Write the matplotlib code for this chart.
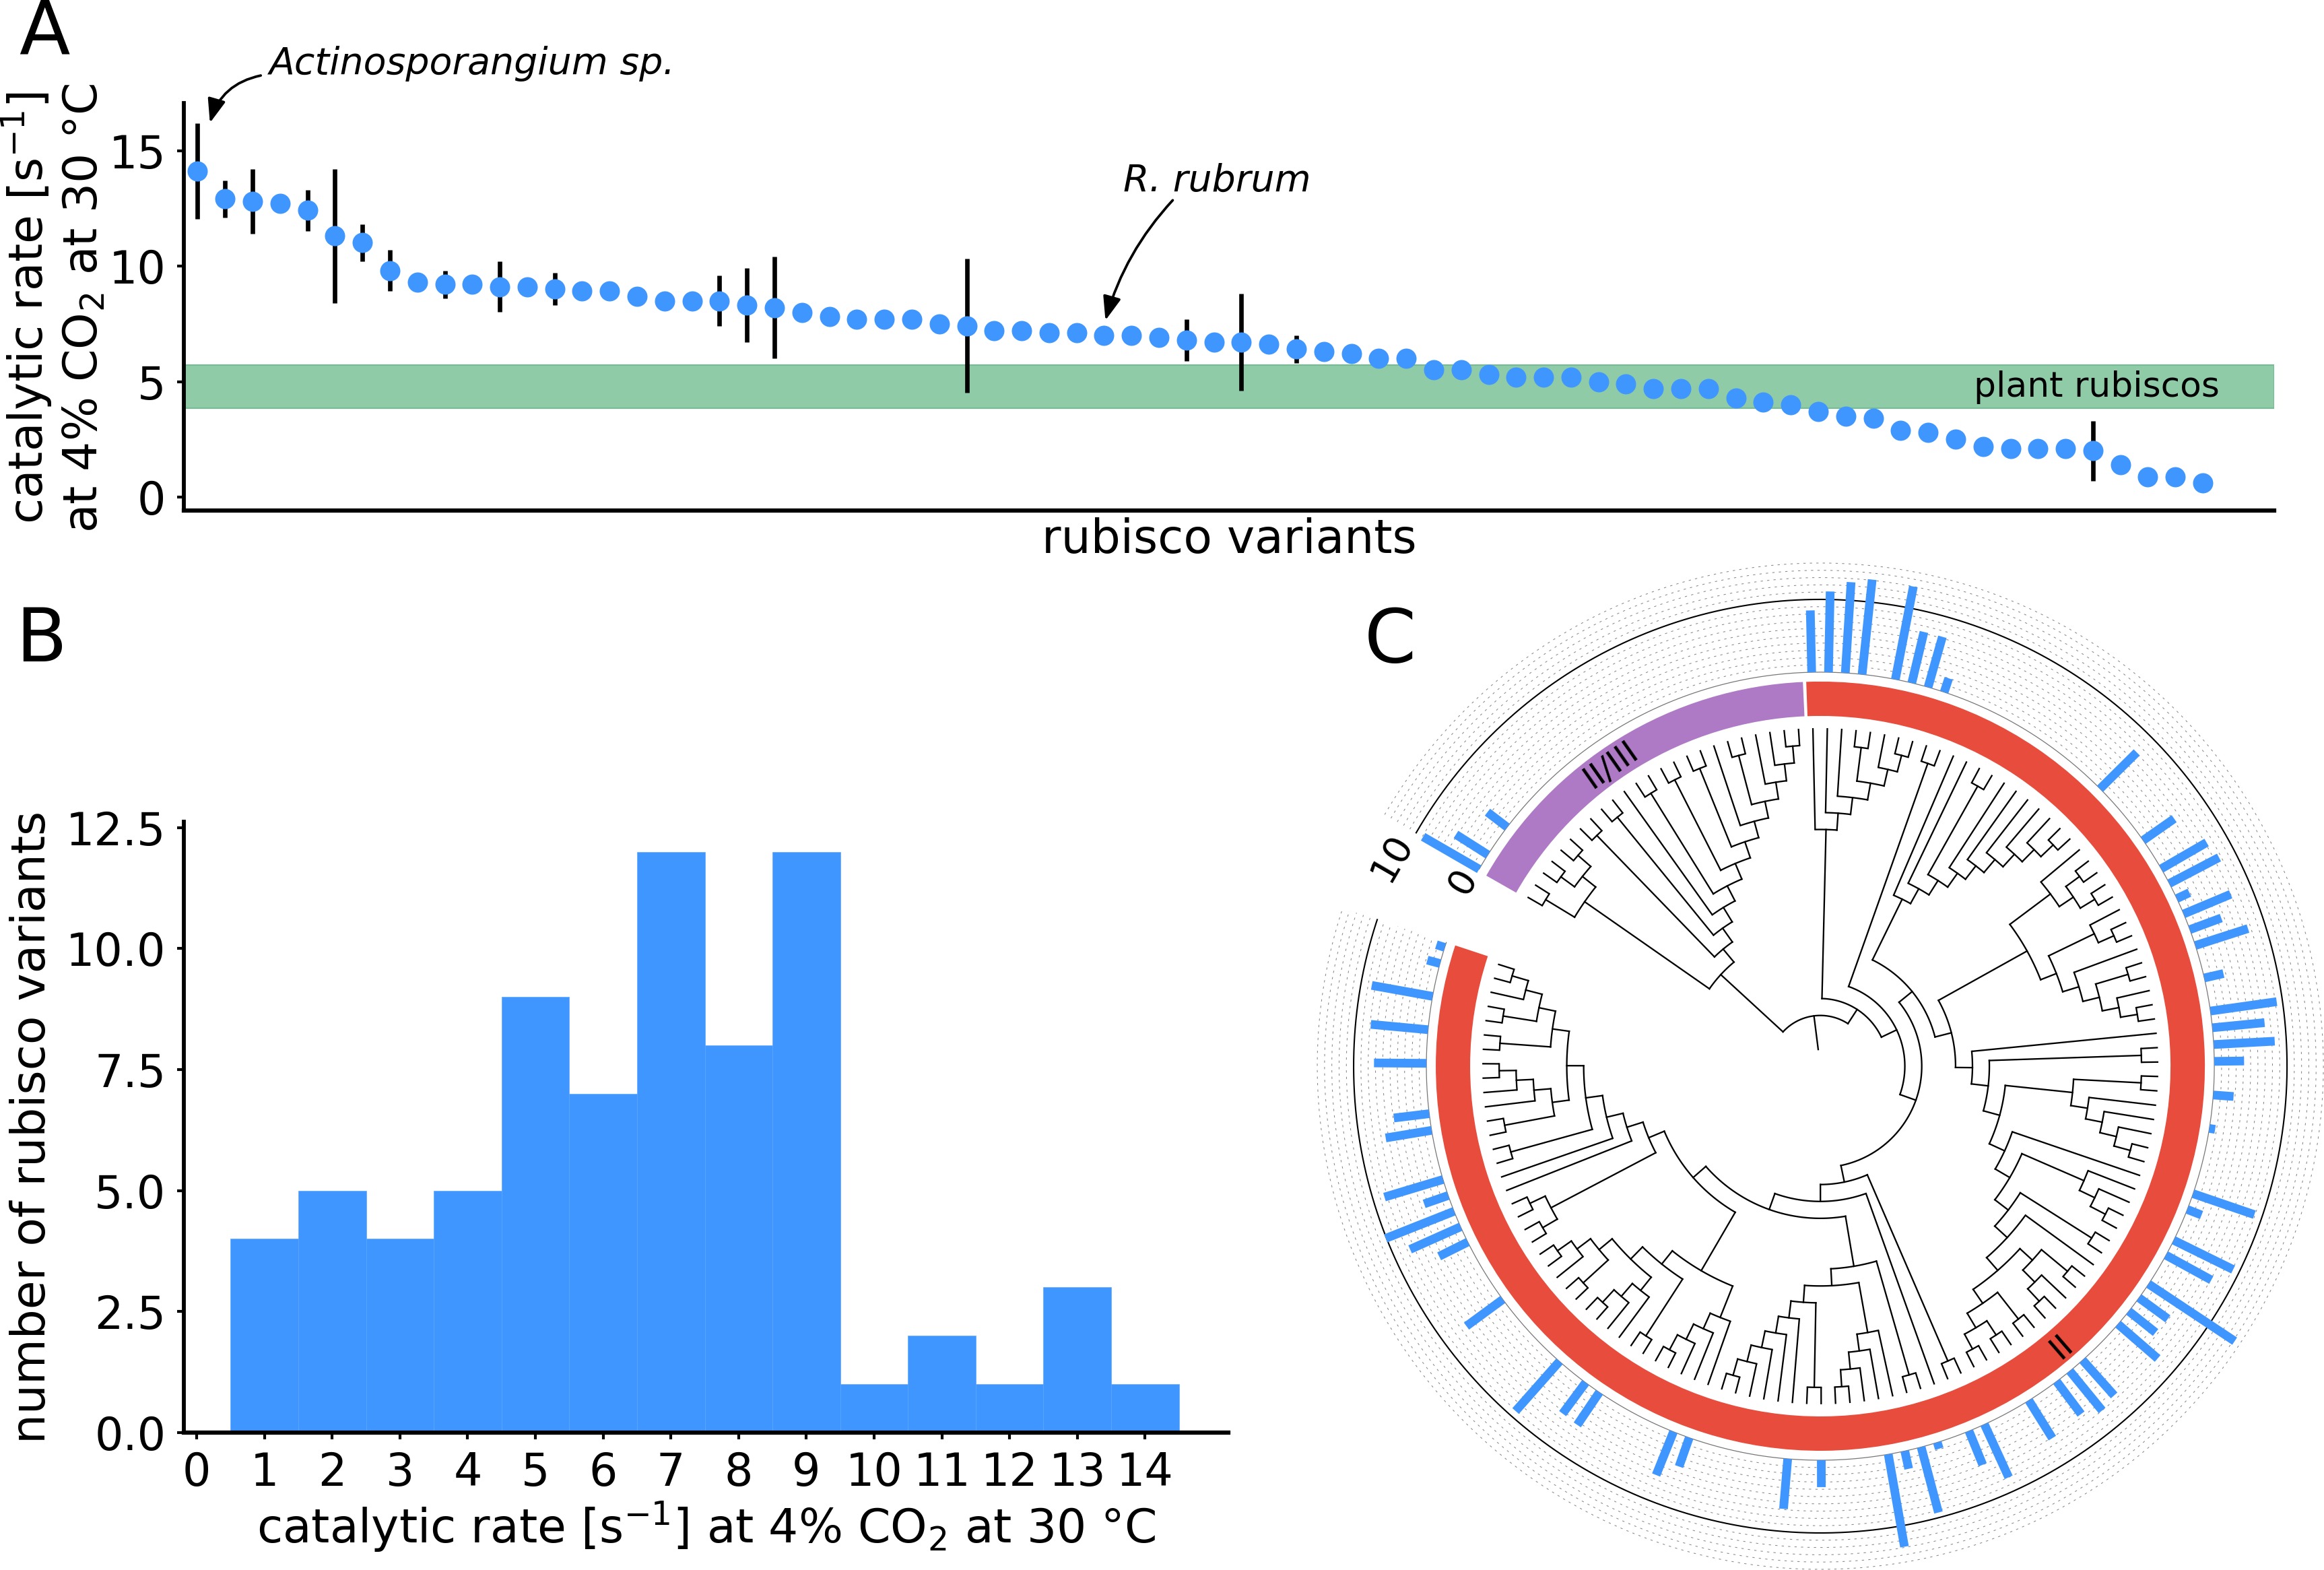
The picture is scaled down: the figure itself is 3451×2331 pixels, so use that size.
import matplotlib
matplotlib.use("Agg")
import matplotlib.pyplot as plt
import numpy as np

W, H = 3451, 2331

BLUE = "#4096ff"
RED = "#e74c3c"
PURPLE = "#af7ac5"

# panel A: rate of each variant, sorted
rates = [14.11, 12.91, 12.80, 12.70, 12.41, 11.31, 11.02, 9.81, 9.30, 9.20, 9.20, 9.11, 9.11, 9.02,
         8.91, 8.91, 8.70, 8.50, 8.50, 8.50, 8.30, 8.20, 8.00, 7.81, 7.70, 7.70, 7.70, 7.50, 7.41,
         7.20, 7.20, 7.11, 7.11, 7.00, 7.00, 6.91, 6.80, 6.70, 6.70, 6.61, 6.41, 6.31, 6.20, 6.00,
         6.00, 5.50, 5.50, 5.30, 5.20, 5.20, 5.20, 5.00, 4.91, 4.70, 4.70, 4.70, 4.30, 4.11, 4.00,
         3.70, 3.50, 3.41, 2.89, 2.80, 2.50, 2.20, 2.09, 2.09, 2.09, 2.00, 1.39, 0.89, 0.89, 0.61]
err_index = [0, 1, 2, 4, 5, 6, 7, 9, 11, 13, 19, 20, 21, 28, 36, 38, 40, 69]
err_size = [2.08, 0.8, 1.4, 0.9, 2.9, 0.8, 0.9, 0.6, 1.1, 0.7, 1.1, 1.6, 2.2, 2.9, 0.9, 2.1, 0.6, 1.3]
plant_low, plant_high = 3.84, 5.72

# panel B: histogram counts
hist_rate = list(range(1, 15))
hist_count = [4, 5, 4, 5, 9, 7, 12, 8, 12, 1, 2, 1, 3, 1]


# panel C: tree topology, "." is a leaf, clockwise from the purple clade
def c(*kids):
    return "(" + "".join(kids) + ")"


def comb(n, end):
    for _ in range(n):
        end = c(".", end)
    return end


L = "."
P = "(..)"

purple_clade = c(c(P, c(P, P)),
                 c(P, c(P, c(L, c(P, c(P, c(P, c(L, c(P, c(L, c(L, P)))))))))))
t1 = comb(3, c(P, c(L, P)))
t2 = comb(2, c(P, comb(5, P)))
h6a = c(c(L, c(P, P)), c(c(L, P), c(L, c(P, c(L, P)))))
h4c = c(c(P, c(L, P)), c(P, c(P, P)))
h7b = c(comb(2, P), c(P, c(L, h4c)))
h9a = c(c(P, comb(3, P)), c(L, h7b))
h11a = c(L, c(P, h9a))
h8d = c(P, c(comb(3, P), c(P, comb(4, P))))
h6e = c(comb(3, P), c(P, c(comb(2, P), c(P, c(L, P)))))
h5x = c(c(P, comb(2, P)), c(P, c(P, c(L, P))))
h9c = c(c(P, P), comb(2, c(P, h5x)))
n175a = c(t2, c(h6a, h11a))
n175b = c(P, c(L, c(h8d, c(h6e, h9c))))
red_clade = c(t1, c(P, c(n175a, n175b)))
tree = c(purple_clade, red_clade)

# rate drawn outside the ring, by leaf number
bar_leaf = [0, 1, 3, 24, 25, 26, 27, 29, 30, 31, 32, 43, 47, 49, 50, 51, 52, 53, 54, 56, 58, 59, 60, 61,
            63, 65, 69, 70, 72, 73, 75, 76, 77, 78, 81, 82, 83, 85, 88, 89, 91, 92, 93, 94, 98, 100,
            106, 107, 112, 113, 115, 120, 124, 125, 126, 127, 128, 131, 132, 135, 137, 139, 141, 142]
bar_rate = [8.9, 5.2, 3.4, 8.5, 11.1, 12.5, 13.1, 13.0, 7.2, 7.2, 2.0, 7.1, 5.2, 7.2, 7.7, 1.9, 7.0, 4.6,
            7.6, 2.7, 9.2, 7.2, 8.4, 4.1, 2.8, 0.8, 8.9, 2.1, 9.1, 7.1, 14.2, 4.9, 4.7, 7.2, 6.5, 7.0,
            5.6, 6.1, 8.0, 5.0, 0.9, 9.3, 2.5, 12.9, 3.7, 6.9, 4.2, 6.4, 5.4, 5.3, 9.1, 6.2, 4.4, 7.6,
            10.1, 3.5, 8.4, 6.4, 4.9, 7.2, 7.9, 8.5, 1.8, 1.2]
rate_rings = list(range(1, 16))


def px_axes(fig, left, top, right, bottom, **kwargs):
    return fig.add_axes([left / W, 1 - bottom / H, (right - left) / W, (bottom - top) / H], **kwargs)


fig = plt.figure(figsize=((W + 0.1) / 300, (H + 0.1) / 300), dpi=300)
plt.rcParams["mathtext.default"] = "regular"

LABEL_SIZE = 16.7
ARROW = "-|>,head_length=0.45,head_width=0.17"

# A
ax = px_axes(fig, 273, 153, 3377, 758)
x = np.arange(len(rates))
ax.axhspan(plant_low, plant_high, facecolor="#90cba8", edgecolor="#74bd93", lw=0.5, zorder=1)
ax.errorbar(np.array(err_index), np.array(rates)[err_index], yerr=err_size, fmt="none",
            ecolor="black", elinewidth=1.6, zorder=2)
ax.plot(x, rates, "o", color=BLUE, ms=7.2, mew=0, zorder=3)
ax.set_xlim(-0.5, 75.6)
ax.set_ylim(-0.58, 17.06)
ax.set_xticks([])
ax.set_yticks([0, 5, 10, 15])
ax.tick_params(axis="y", labelsize=16, length=2.4, width=1.0, pad=4)
ax.spines[["top", "right"]].set_visible(False)
ax.spines["left"].set_linewidth(1.4)
ax.spines["bottom"].set_linewidth(1.5)
ax.set_xlabel("rubisco variants", fontsize=LABEL_SIZE, labelpad=2.5)
ax.text(2.6, 18.3, "Actinosporangium sp.", style="italic", fontsize=13.3, va="baseline", clip_on=False)
ax.annotate("", xy=(0.45, 16.2), xytext=(2.3, 18.25), annotation_clip=False,
            arrowprops=dict(arrowstyle=ARROW, mutation_scale=16, color="black", lw=0.9, shrinkA=0, shrinkB=0,
                            connectionstyle="arc3,rad=0.3"))
ax.text(33.7, 13.25, "R. rubrum", style="italic", fontsize=13.3, va="baseline")
ax.annotate("", xy=(33.05, 7.65), xytext=(35.5, 12.85),
            arrowprops=dict(arrowstyle=ARROW, mutation_scale=16, color="black", lw=0.9, shrinkA=0, shrinkB=0,
                            connectionstyle="arc3,rad=0.12"))
ax.text(64.67, 4.34, "plant rubiscos", fontsize=12.45, va="baseline")
fig.text(79 / W, 1 - 457 / H, "catalytic rate [s$^{-1}$]\nat 4% CO$_2$ at 30 °C", rotation=90,
         ha="center", va="center", ma="center", fontsize=LABEL_SIZE, linespacing=1.2)

# B
ax = px_axes(fig, 273, 1220, 1824, 2127)
ax.bar(hist_rate, hist_count, width=1.0, color=BLUE, edgecolor="#58a3ff", lw=0.15)
ax.set_xlim(-0.19, 15.23)
ax.set_ylim(0, 12.62)
ax.set_xticks(range(0, 15))
ax.set_yticks([0, 2.5, 5, 7.5, 10, 12.5])
ax.set_yticklabels(["0.0", "2.5", "5.0", "7.5", "10.0", "12.5"])
ax.tick_params(labelsize=16, length=2.4, width=1.0, pad=4)
ax.spines[["top", "right"]].set_visible(False)
ax.spines["left"].set_linewidth(1.4)
ax.spines["bottom"].set_linewidth(1.5)
ax.set_xlabel("catalytic rate [s$^{-1}$] at 4% CO$_2$ at 30 °C", fontsize=LABEL_SIZE, labelpad=1.5)
ax.set_ylabel("number of rubisco variants", fontsize=LABEL_SIZE, labelpad=4)

# C
R_AX = 750
cx, cy = 2703, 1583
ax = px_axes(fig, cx - R_AX, cy - R_AX, cx + R_AX, cy + R_AX, projection="polar")
ax.set_theta_zero_location("N")
ax.set_theta_direction(-1)
ax.set_rlim(0, R_AX)
ax.axis("off")

TIP_R, STEP = 502, 25.1
LEAF_0, LEAF_STEP = 300.0, 347.55 / 142
RING_0, RATE_UNIT = 585, 10.8
TREE_LW = 0.55


def arc(a0, a1, r, **kwargs):
    n = max(int(abs(a1 - a0)) * 2, 2)
    ax.plot(np.radians(np.linspace(a0, a1, n)), np.full(n, r), **kwargs)


def draw_clade(pos, counter):
    # returns angle, height and next position in the tree string
    if tree[pos] == ".":
        angle = LEAF_0 + counter[0] * LEAF_STEP
        counter[0] += 1
        return angle, 0, pos + 1
    pos += 1
    kids = []
    while tree[pos] != ")":
        angle, height, pos = draw_clade(pos, counter)
        kids.append((angle, height))
    node_h = max(k[1] for k in kids) + 1
    node_r = TIP_R - STEP * node_h
    arc(kids[0][0], kids[-1][0], node_r, color="black", lw=TREE_LW, solid_capstyle="projecting")
    for angle, height in kids:
        t = np.radians(angle)
        ax.plot([t, t], [node_r, TIP_R - STEP * height], color="black", lw=TREE_LW,
                solid_capstyle="projecting" if height else "butt")
    return (kids[0][0] + kids[-1][0]) / 2, node_h, pos + 1


counter = [0]
root_angle, root_h, _ = draw_clade(0, counter)
ax.plot(np.radians([root_angle, root_angle]), [TIP_R - STEP * root_h, 25], color="black", lw=TREE_LW)

ring_in, ring_out = 520, 571
ax.bar(np.radians((299.7 + 357.4) / 2), ring_out - ring_in, width=np.radians(357.4 - 299.7),
       bottom=ring_in, color=PURPLE, lw=0)
ax.bar(np.radians((357.9 + 648.3) / 2), ring_out - ring_in, width=np.radians(648.3 - 357.9),
       bottom=ring_in, color=RED, lw=0)

GAP_0, GAP_1 = 300.0, 648.3
for v in rate_rings:
    r = RING_0 + v * RATE_UNIT
    if v == 10:
        arc(GAP_0, GAP_1, r, color="black", lw=0.5)
    else:
        arc(GAP_0, GAP_1, r, color="#888888", lw=0.25, ls=(0, (3.2, 6)))
arc(GAP_0, GAP_1, RING_0, color="#777777", lw=0.3)

for leaf, v in zip(bar_leaf, bar_rate):
    t = np.radians(LEAF_0 + leaf * LEAF_STEP)
    ax.plot([t, t], [RING_0, RING_0 + v * RATE_UNIT], color=BLUE, lw=3.1, solid_capstyle="butt")

ax.text(np.radians(296.0), 708, "10", rotation=60, rotation_mode="anchor", ha="center", va="center", fontsize=13.5)
ax.text(np.radians(297.3), 597, "0", rotation=60, rotation_mode="anchor", ha="center", va="center", fontsize=13)
ax.text(np.radians(325.2), 546, "II/III", rotation=35, rotation_mode="anchor", ha="center", va="center", fontsize=11.5)
ax.text(np.radians(139.3), 549, "II", rotation=41, rotation_mode="anchor", ha="center", va="center", fontsize=11.5)

fig.text(28 / W, 1 - 80 / H, "A", fontsize=26.5, va="baseline")
fig.text(23 / W, 1 - 982 / H, "B", fontsize=26.5, va="baseline")
fig.text(2026 / W, 1 - 983 / H, "C", fontsize=26.5, va="baseline")

fig.savefig("out.png", dpi=300)
